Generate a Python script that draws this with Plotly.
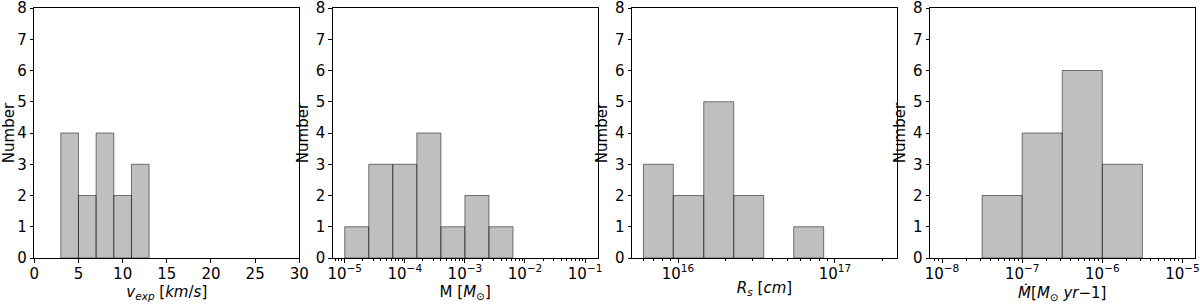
import math
import plotly.graph_objects as go

# ---- data ----
vexp_edges = [3, 5, 7, 9, 11, 13]
vexp_counts = [4, 2, 4, 2, 3]

mass_edges_exp = [-5.0, -4.6, -4.2, -3.8, -3.4, -3.0, -2.6, -2.2]
mass_counts = [1, 3, 3, 4, 1, 2, 1]

rs_edges_exp = [15.78, 15.97, 16.164, 16.355, 16.546, 16.737, 16.928]
rs_counts = [3, 2, 5, 2, 0, 1]

mdot_edges_exp = [-7.5, -7.0, -6.5, -6.0, -5.5]
mdot_counts = [2, 4, 6, 3]

y_ticks = [0, 1, 2, 3, 4, 5, 6, 7, 8]
vexp_ticks = [0, 5, 10, 15, 20, 25, 30]
mass_tick_exp = [-5, -4, -3, -2, -1]
rs_tick_exp = [16, 17]
mdot_tick_exp = [-8, -7, -6, -5]

FILL = "rgba(128,128,128,0.5)"
EDGE = "rgba(0,0,0,0.5)"
FONT = "DejaVu Sans"
FS = 15

fig = go.Figure()


def add_hist(edges, counts, xref, yref):
    for i, c in enumerate(counts):
        if c <= 0:
            continue
        x0, x1 = edges[i], edges[i + 1]
        fig.add_trace(go.Scatter(
            x=[x0, x1, x1, x0, x0], y=[0, 0, c, c, 0],
            mode="lines", fill="toself", fillcolor=FILL,
            line=dict(color=EDGE, width=1),
            xaxis=xref, yaxis=yref, showlegend=False, hoverinfo="skip"))


add_hist(vexp_edges, vexp_counts, "x", "y")
add_hist([10 ** e for e in mass_edges_exp], mass_counts, "x2", "y2")
add_hist([10 ** e for e in rs_edges_exp], rs_counts, "x3", "y3")
add_hist([10 ** e for e in mdot_edges_exp], mdot_counts, "x4", "y4")

W = 1200.0
domains = [(34.3, 299.3), (332.7, 597.7), (632.0, 897.0), (930.0, 1194.5)]


def minor_vals(lo, hi):
    vals = []
    for n in range(int(math.floor(lo)) - 1, int(math.ceil(hi)) + 1):
        for k in range(2, 10):
            v = k * 10 ** n
            if lo <= math.log10(v) <= hi:
                vals.append(v)
    return vals


def pow_label(e):
    s = str(e).replace("-", "\u2212")
    return "10<sup>" + s + "</sup>"


axis_common = dict(showline=True, linecolor="black", linewidth=1, mirror=True,
                   ticks="outside", ticklen=3.5, tickwidth=0.8, tickcolor="black",
                   showgrid=False, zeroline=False, automargin=False,
                   ticklabeloverflow="allow",
                   tickfont=dict(family=FONT, size=FS, color="black"),
                   title_font=dict(family=FONT, size=FS, color="black"))

xtitles = ["<i>v</i><sub><i>exp</i></sub> [<i>km</i>/<i>s</i>]",
           "M [<i>M</i><sub>⊙</sub>]",
           "<i>R</i><sub><i>s</i></sub> [<i>cm</i>]",
           "<i>Ṁ</i>[<i>M</i><sub>⊙</sub> <i>yr</i>−1]"]

ranges = [None, (-5.2, -0.79), (15.707, 17.395), (-8.15, -4.85)]
log_ticks = [None, mass_tick_exp, rs_tick_exp, mdot_tick_exp]

layout = dict(width=1200, height=305, margin=dict(l=0, r=0, t=8, b=47),
              paper_bgcolor="white", plot_bgcolor="white",
              font=dict(family=FONT, size=FS, color="black"))

for i in range(4):
    sfx = "" if i == 0 else str(i + 1)
    d0, d1 = domains[i]
    xa = dict(axis_common, domain=[d0 / W, d1 / W], anchor="y" + sfx,
              ticklabelstandoff=-2,
              title=dict(text=xtitles[i], standoff=0))
    if i == 0:
        xa.update(type="linear", range=[0, 30], tickvals=vexp_ticks)
    else:
        lo, hi = ranges[i]
        xa.update(type="log", range=[lo, hi],
                  tickvals=[10 ** e for e in log_ticks[i]],
                  ticktext=[pow_label(e) for e in log_ticks[i]],
                  minor=dict(ticks="outside", ticklen=2, tickwidth=0.6, tickcolor="black",
                             tickvals=minor_vals(lo, hi), showgrid=False))
    ya = dict(axis_common, domain=[0, 1], anchor="x" + sfx, range=[0, 8],
              tickvals=y_ticks, title=dict(text="Number", standoff=3))
    layout["xaxis" + sfx] = xa
    layout["yaxis" + sfx] = ya

fig.update_layout(**layout)
fig.write_html("out.html", config={"displayModeBar": False},
               post_script="document.body.style.margin='0';document.body.style.padding='0';")
